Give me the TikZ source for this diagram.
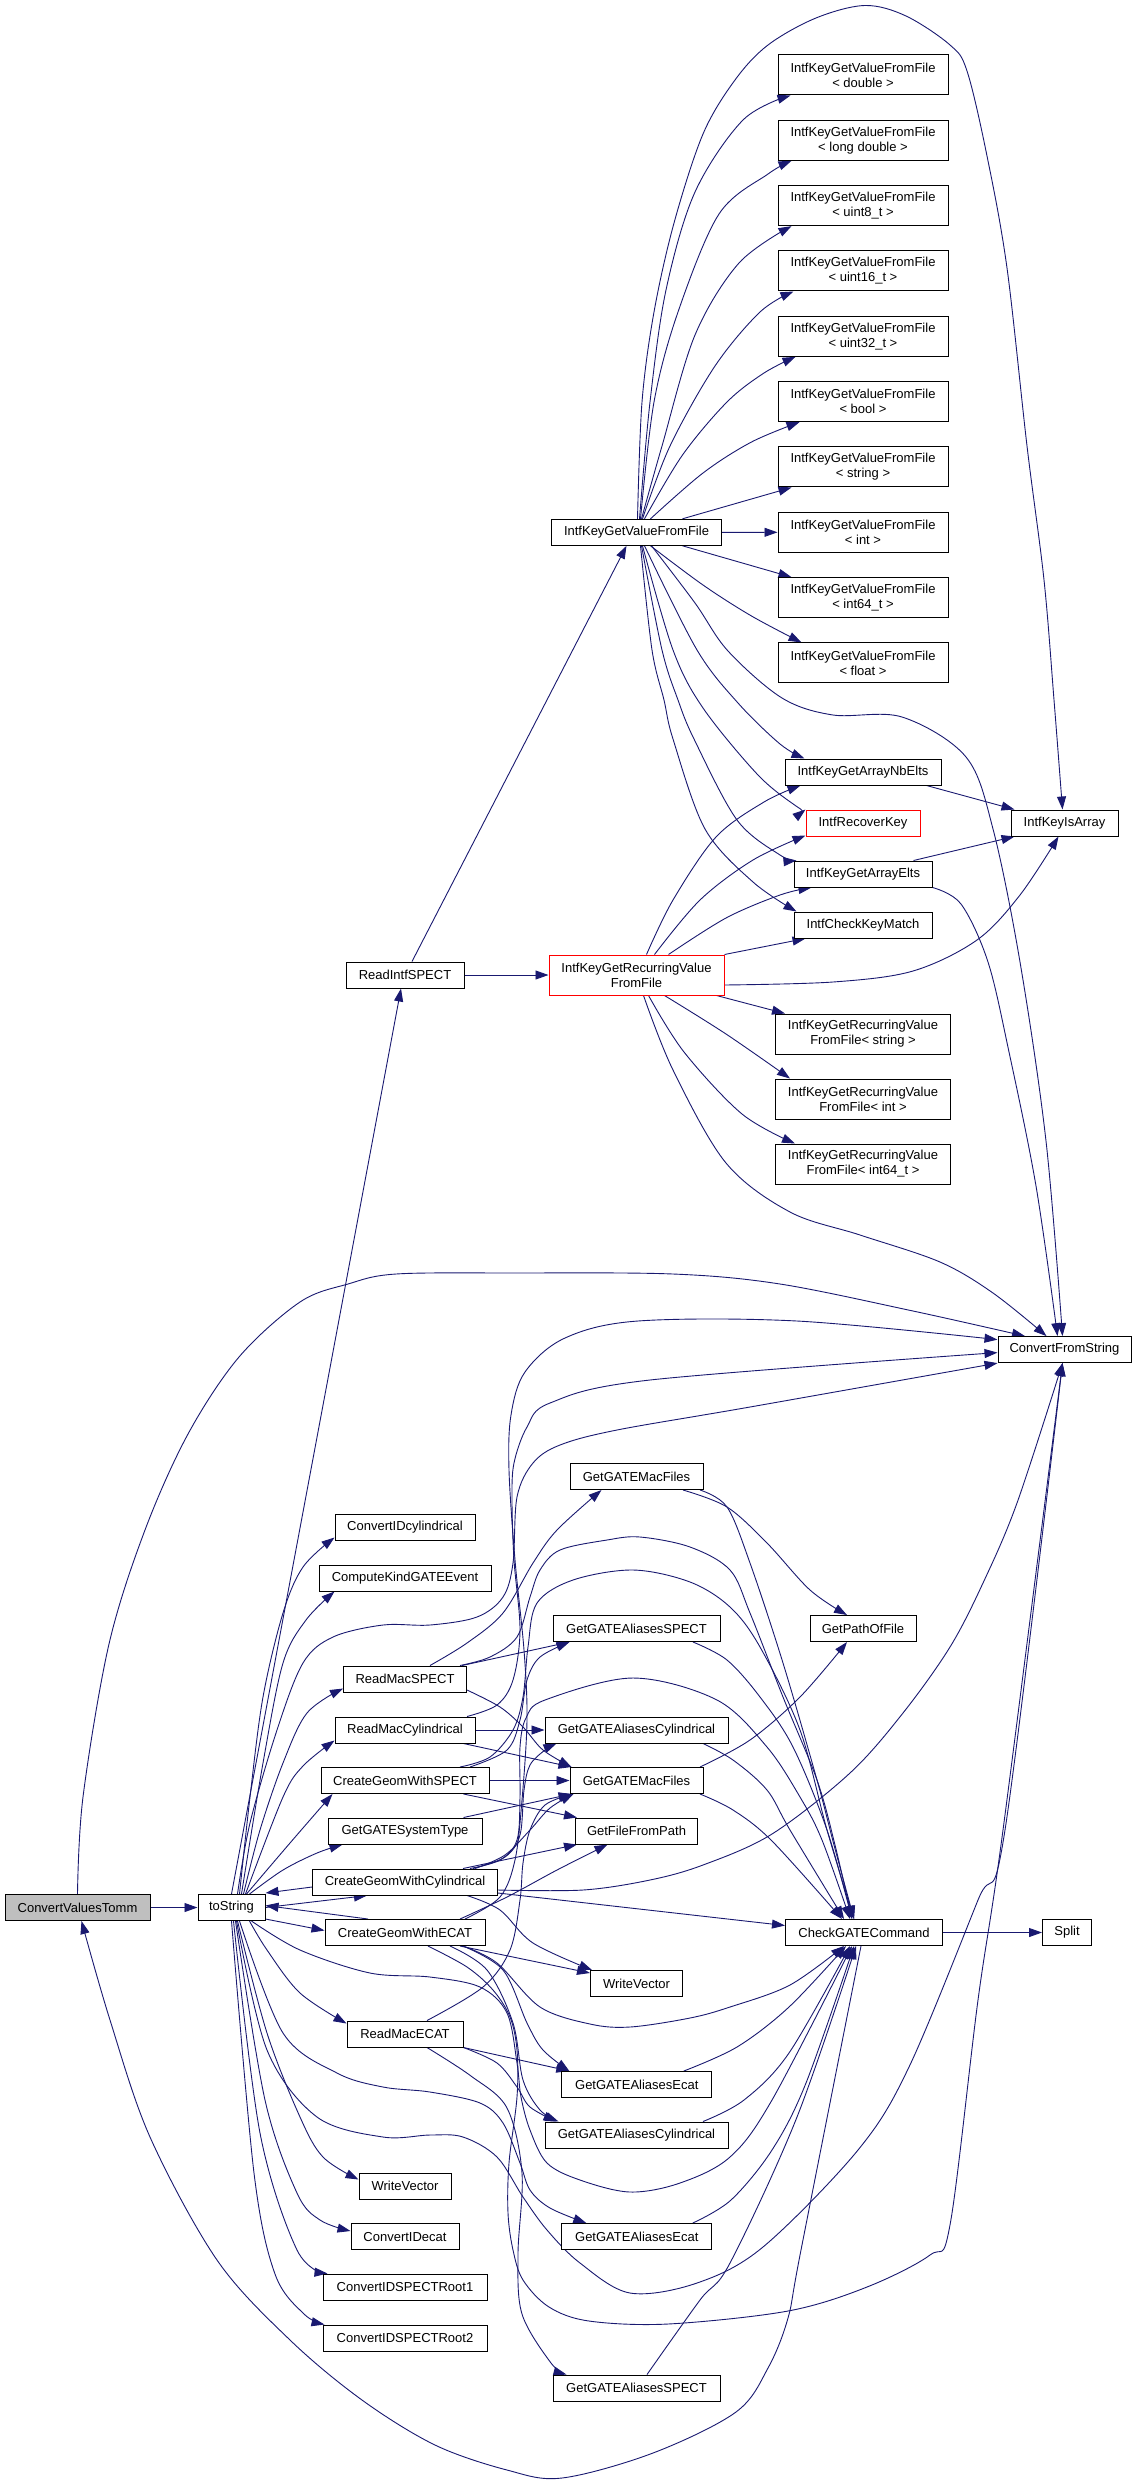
\documentclass[tikz,border=0pt]{standalone}
\usepackage{fontspec}
\setmainfont{Liberation Sans}
\usetikzlibrary{arrows.meta}
\definecolor{ec}{HTML}{191970}
\definecolor{ng}{HTML}{BFBFBF}
\pgfdeclarelayer{bg}
\pgfsetlayers{bg,main}
\tikzset{
  nd/.style={draw=black, line width=1pt, fill=white, inner sep=0pt, minimum height=26pt, font=\fontsize{13pt}{15pt}\selectfont, align=center},
  nd2/.style={nd, minimum height=40pt},
  e/.style={draw=ec, line width=0.9pt, -{Triangle[length=13pt,width=9pt]}},
  sm/.style={smooth, tension=0.55}
}
\begin{document}
\begin{tikzpicture}[x=1pt,y=-1pt]
\useasboundingbox (0,0) rectangle (1136,2483);
% ---------- nodes ----------
\node[nd,minimum width=145pt,fill=ng] (cvt) at (77.5,1907.5) {ConvertValuesTomm};
\node[nd,minimum width=67pt] (tos) at (231.5,1907.5) {toString};
\node[nd,minimum width=118pt] (ris) at (405,975) {ReadIntfSPECT};
\node[nd,minimum width=170pt] (gvf) at (636.5,532.3) {IntfKeyGetValueFromFile};
\node[nd2,minimum width=175pt,draw=red] (grv) at (636.5,975) {IntfKeyGetRecurringValue\\FromFile};
\foreach \i/\s in {0/double,1/long double,2/uint8\_t,3/uint16\_t,4/uint32\_t,5/bool,6/string,7/int,8/int64\_t,9/float}
  \node[nd2,minimum width=170pt] (t\i) at (863,{75+65.33*\i}) {IntfKeyGetValueFromFile\\\textless{} \s{} \textgreater};
\node[nd,minimum width=156pt] (nbe) at (863,772) {IntfKeyGetArrayNbElts};
\node[nd,minimum width=114pt,draw=red] (rck) at (863,823) {IntfRecoverKey};
\node[nd,minimum width=138pt] (gae) at (863,874) {IntfKeyGetArrayElts};
\node[nd,minimum width=138pt] (ckm) at (863,925) {IntfCheckKeyMatch};
\node[nd,minimum width=107pt] (kia) at (1064.5,823) {IntfKeyIsArray};
\node[nd2,minimum width=175pt] (r0) at (863,1034) {IntfKeyGetRecurringValue\\FromFile\textless{} string \textgreater};
\node[nd2,minimum width=175pt] (r1) at (863,1099) {IntfKeyGetRecurringValue\\FromFile\textless{} int \textgreater};
\node[nd2,minimum width=175pt] (r2) at (863,1164) {IntfKeyGetRecurringValue\\FromFile\textless{} int64\_t \textgreater};
\node[nd,minimum width=133pt] (cfs) at (1064.5,1349.6) {ConvertFromString};
\node[nd,minimum width=133pt] (mf1) at (636.5,1476.5) {GetGATEMacFiles};
\node[nd,minimum width=140pt] (cic) at (405,1527) {ConvertIDcylindrical};
\node[nd,minimum width=172pt] (ckg) at (405,1578) {ComputeKindGATEEvent};
\node[nd,minimum width=167pt] (as1) at (636.5,1628.5) {GetGATEAliasesSPECT};
\node[nd,minimum width=106pt] (gpf) at (863,1628.5) {GetPathOfFile};
\node[nd,minimum width=123pt] (rms) at (405,1679) {ReadMacSPECT};
\node[nd,minimum width=140pt] (rmc) at (405,1730) {ReadMacCylindrical};
\node[nd,minimum width=183pt] (ac1) at (636.5,1730) {GetGATEAliasesCylindrical};
\node[nd,minimum width=168pt] (cgs) at (405,1780.5) {CreateGeomWithSPECT};
\node[nd,minimum width=133pt] (mf2) at (636.5,1780.5) {GetGATEMacFiles};
\node[nd,minimum width=154pt] (gst) at (405,1831) {GetGATESystemType};
\node[nd,minimum width=122pt] (gfp) at (636.5,1831) {GetFileFromPath};
\node[nd,minimum width=185pt] (cgc) at (405,1882) {CreateGeomWithCylindrical};
\node[nd,minimum width=160pt] (cge) at (405,1932.5) {CreateGeomWithECAT};
\node[nd,minimum width=157pt] (chk) at (864,1932.5) {CheckGATECommand};
\node[nd,minimum width=49pt] (spl) at (1067,1932.5) {Split};
\node[nd,minimum width=92pt] (wv1) at (636.5,1983.5) {WriteVector};
\node[nd,minimum width=116pt] (rme) at (405,2034) {ReadMacECAT};
\node[nd,minimum width=150pt] (ae1) at (636.8,2084.5) {GetGATEAliasesEcat};
\node[nd,minimum width=183pt] (ac2) at (636.5,2135) {GetGATEAliasesCylindrical};
\node[nd,minimum width=92pt] (wv2) at (405,2186) {WriteVector};
\node[nd,minimum width=108pt] (cie) at (405,2236.5) {ConvertIDecat};
\node[nd,minimum width=150pt] (ae2) at (636.8,2236.5) {GetGATEAliasesEcat};
\node[nd,minimum width=164pt] (csr1) at (405,2287) {ConvertIDSPECTRoot1};
\node[nd,minimum width=164pt] (csr2) at (405,2338) {ConvertIDSPECTRoot2};
\node[nd,minimum width=167pt] (as2) at (636.5,2388) {GetGATEAliasesSPECT};
% ---------- edges ----------
\begin{pgfonlayer}{bg}
\draw[e] (cvt.east) -- (tos.west);
\draw[e] plot[sm] coordinates {(cvt.north) (83,1797) (109,1644) (145,1530) (188,1434) (239,1357) (300,1302) (348,1284) (396,1274) (513,1273) (673,1274) (780,1284) (913,1311) ([xshift=-39.5pt]cfs.north)};
\draw[e] (tos.north) -- ([xshift=-4pt]ris.south);
\draw[e] ([xshift=7pt]ris.north) -- ([xshift=-10pt]gvf.south);
\draw[e] (ris.east) -- (grv.west);
% IntfKeyGetValueFromFile
\draw[e] (gvf.east) -- (t7.west);
\draw[e] ([xshift=46pt]gvf.north) -- ([xshift=14pt]t6.south west);
\draw[e] ([xshift=46pt]gvf.south) -- ([xshift=14pt]t8.north west);
\draw[e] plot[sm] coordinates {([xshift=14pt]gvf.north) (703,473) (751.5,442) ([xshift=22pt]t5.south west)};
\draw[e] plot[sm] coordinates {([xshift=14pt]gvf.south) (703,585) (751.5,616) ([xshift=24pt]t9.north west)};
\draw[e] plot[sm] coordinates {([xshift=8pt]gvf.north) (682.5,455) (727,402) (764,373) ([xshift=18pt]t4.south west)};
\draw[e] plot[sm] coordinates {([xshift=6pt]gvf.north) (670,446) (715,366) (760,312) ([xshift=16pt]t3.south west)};
\draw[e] plot[sm] coordinates {([xshift=5pt]gvf.north) (662,446) (695,335) (739,263) ([xshift=14pt]t2.south west)};
\draw[e] plot[sm] coordinates {([xshift=4pt]gvf.north) (654,402) (678,312) (719,214) (768,174) ([xshift=14pt]t1.south west)};
\draw[e] plot[sm] coordinates {([xshift=3pt]gvf.north) (650,402) (666,290) (695,192) (743,120) ([xshift=13pt]t0.south west)};
\draw[e] plot[sm] coordinates {([xshift=1pt]gvf.north) (642,402) (654,312) (674,223) (703,134) (735,80) (768,45) (816,18) (865,5.5) (906,16) (950,45) (967,71) (987,156) (1007,268) (1027,446) (1044,580) (1054,700) ([xshift=-2pt]kia.north)};
\draw[e] plot[sm] coordinates {([xshift=4pt]gvf.south) (652,650) (664,700) (673,739) (705,829) (753,882) ([xshift=3pt]ckm.north west)};
\draw[e] plot[sm] coordinates {([xshift=5pt]gvf.south) (662,650) (678,700) (694,739) (737,820) (780,855) ([xshift=3pt]gae.north west)};
\draw[e] plot[sm] coordinates {([xshift=6pt]gvf.south) (673,650) (703,708) (758,775) (796,806) (rck.north west)};
\draw[e] plot[sm] coordinates {([xshift=8pt]gvf.south) (697,650) (738,703) (780,744) ([xshift=20pt]nbe.north west)};
\draw[e] plot[sm] coordinates {([xshift=15pt]gvf.south) (695,603) (728,651) (782,698) (833,715) (902,717) (966,757) (993,829) (1020,962) (1046,1141) ([xshift=-2pt]cfs.north)};
% IntfKeyGetRecurringValueFromFile
\draw[e] plot[sm] coordinates {([xshift=10pt]grv.north) (673,900) (716,837) (764,802) ([xshift=16pt]nbe.south west)};
\draw[e] plot[sm] coordinates {([xshift=18pt]grv.north) (700,900) (753,860) ([shift={(0,-1)}]rck.south west)};
\draw[e] plot[sm] coordinates {([xshift=32pt]grv.north) (726,918) (780,895) ([xshift=18pt]gae.south west)};
\draw[e] (grv.north east) -- ([xshift=12pt]ckm.south west);
\draw[e] plot[sm] coordinates {([shift={(0,10)}]grv.east) (833,982) (913,971) (977,940) (1020,895) ([xshift=-6pt]kia.south)};
\draw[e] ([xshift=-8pt]grv.south east) -- ([xshift=10pt]r0.north west);
\draw[e] plot[sm] coordinates {([xshift=28pt]grv.south) (726,1034) ([xshift=15pt]r1.north west)};
\draw[e] plot[sm] coordinates {([xshift=12pt]grv.south) (684,1052) (742,1114) ([xshift=20pt]r2.north west)};
\draw[e] plot[sm] coordinates {([xshift=7pt]grv.south) (673,1070) (726,1163) (790,1212) (860,1235) (940,1262) (993,1293) ([xshift=-18pt]cfs.north)};
\draw[e] ([xshift=-15pt]nbe.south east) -- ([xshift=4pt]kia.north west);
\draw[e] ([xshift=-19pt]gae.north east) -- ([xshift=4pt]kia.south west);
\draw[e] plot[sm] coordinates {(gae.south east) (961,904) (988,962) (1009,1052) (1036,1186) ([xshift=-7pt]cfs.north)};
% toString fan (top)
\draw[e] plot[sm] coordinates {([xshift=8pt]tos.north) (250,1797) (263,1697) (283,1613) (303,1567) ([shift={(0,-3)}]cic.south west)};
\draw[e] plot[sm] coordinates {([xshift=10pt]tos.north) (263,1763) (283,1663) (306,1620) ([xshift=16pt]ckg.south west)};
\draw[e] plot[sm] coordinates {([xshift=12pt]tos.north) (260,1830) (283,1763) (307,1713) ([shift={(0,-4)}]rms.south west)};
\draw[e] plot[sm] coordinates {([xshift=14pt]tos.north) (283,1797) (303,1766) ([shift={(0,-3)}]rmc.south west)};
\draw[e] plot[sm] coordinates {([xshift=15pt]tos.north) (290,1843) ([xshift=12pt]cgs.south west)};
\draw[e] plot[sm] coordinates {([xshift=18pt]tos.north) (283,1870) (317,1853) ([xshift=15pt]gst.south west)};
\draw[e] plot[sm] coordinates {([xshift=6pt]tos.north) (250,1823) (277,1730) (303,1663) (333,1637) (383,1625) (430,1625) (477,1617) (503,1597) (513,1563) (517,1497) (533,1463) (560,1445) (617,1430) (750,1407) (cfs.south west)};
% toString <-> CreateGeom
\draw[e] (tos.east) -- ([xshift=-38pt]cgc.south);
\draw[e] ([shift={(0,5)}]cgc.west) -- ([shift={(0,-1)}]tos.north east);
\draw[e] ([xshift=-37pt]cge.north) -- ([shift={(0,-2)}]tos.east);
\draw[e] ([shift={(0,-2)}]tos.south east) -- ([shift={(0,-2)}]cge.west);
% toString fan (bottom)
\draw[e] plot[sm] coordinates {([xshift=18pt]tos.south) (267,1950) (300,1993) ([shift={(0,3)}]rme.north west)};
\draw[e] plot[sm] coordinates {([xshift=6pt]tos.south) (267,2033) (300,2117) (323,2157) ([shift={(0,7)}]wv2.north west)};
\draw[e] plot[sm] coordinates {([xshift=4pt]tos.south) (265,2100) (297,2193) (320,2220) ([shift={(0,8)}]cie.north west)};
\draw[e] plot[sm] coordinates {([xshift=2pt]tos.south) (260,2133) (297,2250) ([xshift=5pt]csr1.north west)};
\draw[e] plot[sm] coordinates {(tos.south) (254,2173) (275,2274) (304,2314) ([xshift=2pt]csr2.north west)};
\draw[e] plot[sm] coordinates {([xshift=20pt]tos.south) (300,1950) (370,1973) (430,1977) (480,1987) (507,2013) (517,2063) (521,2097) (530,2130) (547,2163) (580,2180) (630,2192) (680,2183) (730,2157) (772,2100) ([xshift=-12pt]chk.south)};
\draw[e] plot[sm] coordinates {([xshift=8pt]tos.south) (283,2033) (337,2073) (383,2087) (430,2092) (480,2103) (503,2123) (520,2163) (530,2190) (550,2208) ([xshift=25pt]ae2.north west)};
\draw[e] plot[sm] coordinates {([xshift=5pt]tos.south) (267,2050) (317,2117) (383,2137) (430,2135) (463,2137) (497,2157) (523,2197) (547,2230) (580,2263) (630,2293) (697,2283) (763,2247) (858,2150) (909,2067) (978,1900) (1005,1830) ([xshift=-2pt]cfs.south)};
% ReadMacSPECT
\draw[e] plot[sm] coordinates {([xshift=25pt]rms.north) (467,1643) (503,1613) (533,1563) (557,1530) ([xshift=-35pt]mf1.south)};
\draw[e] ([xshift=57pt]rms.north) -- ([xshift=17pt]as1.south west);
\draw[e] plot[sm] coordinates {([shift={(0,11)}]rms.east) (500,1707) (523,1727) (543,1750) ([xshift=2pt]mf2.north west)};
\draw[e] plot[sm] coordinates {([xshift=55pt]rms.north) (490,1657) (517,1637) (530,1597) (540,1570) (560,1550) (607,1540) (640,1537) (690,1547) (730,1570) (750,1613) (783,1697) (817,1780) (835,1845) ([xshift=-12pt]chk.north)};
% ReadMacCylindrical
\draw[e] (rmc.east) -- (ac1.west);
\draw[e] ([xshift=-12pt]rmc.south east) -- ([xshift=2pt]mf2.north west);
\draw[e] plot[sm] coordinates {([xshift=62pt]rmc.north) (497,1705) (513,1680) (520,1630) (514,1560) (512,1500) (514,1463) (527,1427) (550,1403) (650,1380) ([shift={(0,3)}]cfs.west)};
% CreateGeomWithSPECT
\draw[e] (cgs.east) -- (mf2.west);
\draw[e] ([xshift=-26pt]cgs.south east) -- ([xshift=2pt]gfp.north west);
\draw[e] plot[sm] coordinates {([xshift=65pt]cgs.north) (507,1750) (520,1720) (527,1680) (540,1657) ([xshift=17pt]as1.south west)};
\draw[e] plot[sm] coordinates {([xshift=55pt]cgs.north) (490,1757) (513,1730) (523,1697) (528,1647) (537,1603) (573,1580) (633,1570) (690,1582) (730,1607) (760,1647) (800,1730) (827,1830) ([xshift=-10pt]chk.north)};
% GetGATESystemType
\draw[e] ([xshift=-19pt]gst.north east) -- ([xshift=2pt]mf2.south west);
% CreateGeomWithCylindrical
\draw[e] plot[sm] coordinates {([xshift=70pt]cgc.north) (505,1855) (530,1830) (550,1808) ([xshift=4pt]mf2.south west)};
\draw[e] ([xshift=58pt]cgc.north) -- ([xshift=2pt]gfp.south west);
\draw[e] plot[sm] coordinates {([xshift=68pt]cgc.north) (505,1857) (520,1835) (524,1790) (530,1765) (545,1750) ([xshift=12pt]ac1.south west)};
\draw[e] plot[sm] coordinates {([xshift=65pt]cgc.north) (500,1860) (517,1840) (520,1797) (520,1747) (526,1718) (545,1700) (633,1678) (717,1700) (767,1747) (800,1797) (822,1840) ([xshift=-14pt]chk.north)};
\draw[e] plot[sm] coordinates {([shift={(0,8)}]cgc.east) (583,1890) (650,1880) (703,1865) (772,1834) (850,1773) (903,1713) (950,1647) (983,1583) (1017,1503) ([xshift=-2pt]cfs.south)};
\draw[e] ([shift={(0,11)}]cgc.east) -- ([shift={(0,-7)}]chk.west);
\draw[e] plot[sm] coordinates {([xshift=62pt]cgc.south) (500,1910) (533,1943) ([xshift=2pt]wv1.north west)};
% CreateGeomWithECAT
\draw[e] plot[sm] coordinates {([xshift=55pt]cge.north) (507,1897) (557,1870) ([xshift=-29pt]gfp.south)};
\draw[e] plot[sm] coordinates {([xshift=60pt]cge.north) (500,1897) (515,1860) (522,1800) (527,1720) (524,1650) (515,1560) (509,1470) (511,1415) (525,1372) (565,1338) (638,1321) (797,1321) ([shift={(0,-10)}]cfs.west)};
\draw[e] ([xshift=55pt]cge.south) -- ([shift={(0,3)}]wv1.north west);
\draw[e] plot[sm] coordinates {([xshift=58pt]cge.south) (503,1970) (527,2023) (543,2050) ([xshift=8pt]ae1.north west)};
\draw[e] plot[sm] coordinates {([xshift=45pt]cge.south) (487,1970) (513,2023) (523,2080) (540,2110) ([xshift=14pt]ac2.north west)};
\draw[e] plot[sm] coordinates {([xshift=58pt]cge.south) (497,1963) (540,2007) (590,2024) (630,2027) (690,2018) (730,2007) (790,1985) ([xshift=-20pt]chk.south)};
\draw[e] plot[sm] coordinates {([xshift=23pt]cge.south) (467,1967) (493,1990) (510,2017) (517,2050) (517,2097) (509,2163) (508,2213) (513,2250) (523,2280) (549,2307) (589,2321) (668,2324) (788,2311) (867,2287) (930,2255) (950,2225) (978,2000) (1003,1830) ([xshift=-2pt]cfs.south)};
% ReadMacECAT
\draw[e] plot[sm] coordinates {([xshift=22pt]rme.north) (483,1987) (510,1950) (520,1900) (523,1863) (530,1830) (545,1805) ([xshift=3pt]mf2.south west)};
\draw[e] (rme.south east) -- ([xshift=8pt]ae1.north west);
\draw[e] plot[sm] coordinates {(rme.south east) (497,2063) (517,2087) (530,2107) ([xshift=12pt]ac2.north west)};
\draw[e] plot[sm] coordinates {([xshift=22pt]rme.south) (471,2076) (507,2108) (522,2173) (518,2254) (522,2314) (551,2363) ([xshift=14pt]as2.north west)};
% GetGATEMacFiles
\draw[e] plot[sm] coordinates {([xshift=46.5pt]mf1.south) (727,1507) (767,1543) (810,1590) ([xshift=-16pt]gpf.north)};
\draw[e] plot[sm] coordinates {([xshift=63.5pt]mf1.south) (727,1507) (750,1563) (783,1663) (817,1780) (834,1845) ([xshift=-10pt]chk.north)};
\draw[e] plot[sm] coordinates {([xshift=63.5pt]mf2.north) (750,1740) (800,1697) ([xshift=-16pt]gpf.south)};
\draw[e] plot[sm] coordinates {([xshift=63.5pt]mf2.south) (733,1810) (772,1841) ([xshift=-22pt]chk.north)};
% aliases -> CheckGATECommand
\draw[e] plot[sm] coordinates {([xshift=56.5pt]as1.south) (727,1660) (760,1697) (793,1747) (827,1830) ([xshift=-12pt]chk.north)};
\draw[e] plot[sm] coordinates {([xshift=66.5pt]ac1.south) (733,1760) (767,1790) (790,1830) ([xshift=-20pt]chk.north)};
\draw[e] plot[sm] coordinates {([xshift=47pt]ae1.north) (737,2047) (789,2007) ([xshift=-18pt]chk.south)};
\draw[e] plot[sm] coordinates {([xshift=66.5pt]ac2.north) (744,2100) (789,2053) ([xshift=-14pt]chk.south)};
\draw[e] plot[sm] coordinates {([xshift=56pt]ae2.north) (731,2200) (772,2150) (806,2083) ([xshift=-10pt]chk.south)};
\draw[e] plot[sm] coordinates {([xshift=10.5pt]as2.north) (700,2300) (730,2263) (797,2117) ([xshift=-8pt]chk.south)};
\draw[e] (chk.east) -- (spl.west);
\draw[e] plot[sm] coordinates {([xshift=-3pt]chk.south) (801,2250) (788,2318) (768,2368) (736,2412) (653,2453) (562,2478) (507,2470) (435,2445) (362,2400) (290,2340) (217,2260) (150,2137) (110,2020) ([xshift=4pt]cvt.south)};
\end{pgfonlayer}
\end{tikzpicture}
\end{document}
